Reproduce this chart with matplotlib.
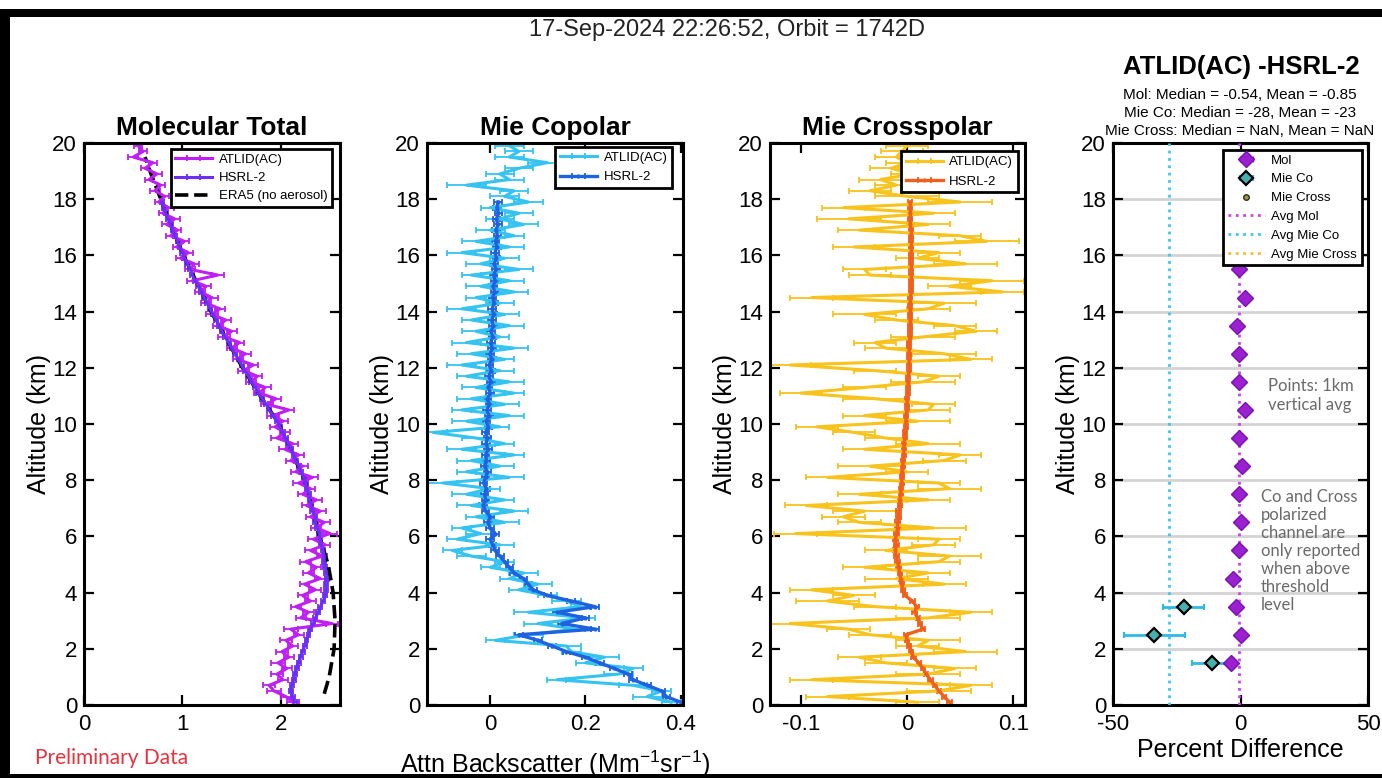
import numpy as np
import matplotlib
matplotlib.use('Agg')
import matplotlib.pyplot as plt
from matplotlib.patches import Rectangle

plt.rcParams['font.family'] = ['Liberation Sans', 'DejaVu Sans']
plt.rcParams['axes.unicode_minus'] = False
plt.rcParams['mathtext.fontset'] = 'custom'
plt.rcParams['mathtext.rm'] = 'Liberation Sans'
plt.rcParams['mathtext.it'] = 'Liberation Sans'

# ATLID profiles, 200 m bins from 0.1 km up to 19.9 km (one row = 2 km)
atlid_mol = [2.12, 2.05, 1.93, 1.88, 2.02, 1.96, 2.06, 1.97, 2.08, 2.01,
             2.12, 2.05, 2.18, 2.10, 2.52, 2.20, 2.28, 2.15, 2.30, 2.22,
             2.35, 2.24, 2.40, 2.28, 2.36, 2.25, 2.42, 2.30, 2.45, 2.33,
             2.50, 2.36, 2.44, 2.30, 2.40, 2.26, 2.36, 2.22, 2.30, 2.18,
             2.32, 2.15, 2.22, 2.10, 2.18, 2.04, 2.12, 1.96, 2.04, 1.94,
             2.02, 1.92, 2.08, 1.86, 1.95, 1.78, 1.84, 1.70, 1.76, 1.62,
             1.72, 1.56, 1.64, 1.50, 1.58, 1.42, 1.50, 1.36, 1.44, 1.30,
             1.38, 1.24, 1.30, 1.18, 1.24, 1.10, 1.36, 1.08, 1.12, 0.98,
             1.06, 0.94, 1.02, 0.88, 0.95, 0.84, 0.92, 0.80, 0.86, 0.76,
             0.82, 0.72, 0.78, 0.66, 0.74, 0.62, 0.70, 0.50, 0.60, 0.55]
atlid_mol_err = [0.06, 0.05, 0.07, 0.06, 0.05, 0.06, 0.05, 0.07, 0.05, 0.06,
                 0.05, 0.06, 0.05, 0.07, 0.06, 0.05, 0.06, 0.05, 0.06, 0.05,
                 0.06, 0.05, 0.05, 0.06, 0.05, 0.06, 0.05, 0.06, 0.05, 0.06,
                 0.07, 0.05, 0.06, 0.05, 0.06, 0.05, 0.06, 0.05, 0.05, 0.06,
                 0.06, 0.05, 0.06, 0.05, 0.05, 0.06, 0.05, 0.06, 0.05, 0.05,
                 0.05, 0.06, 0.05, 0.06, 0.05, 0.05, 0.06, 0.05, 0.05, 0.06,
                 0.05, 0.05, 0.06, 0.05, 0.05, 0.06, 0.05, 0.05, 0.05, 0.06,
                 0.05, 0.05, 0.06, 0.05, 0.05, 0.05, 0.06, 0.05, 0.05, 0.05,
                 0.05, 0.04, 0.05, 0.05, 0.04, 0.05, 0.05, 0.04, 0.05, 0.04,
                 0.04, 0.05, 0.04, 0.04, 0.05, 0.04, 0.04, 0.05, 0.04, 0.04]

atlid_co = [0.38, 0.33, 0.36, 0.30, 0.14, 0.27, 0.30, 0.20, 0.24, 0.17,
            0.16, 0.01, 0.08, 0.18, 0.10, 0.20, 0.08, 0.19, 0.16, 0.12,
            0.06, 0.10, 0.04, 0.07, 0.00, 0.03, -0.04, -0.08, 0.02, -0.07,
            -0.02, -0.06, 0.03, -0.03, 0.05, -0.04, 0.03, -0.05, 0.00, -0.10,
            0.04, -0.05, 0.02, -0.04, 0.05, -0.06, 0.03, -0.03, -0.12, 0.02,
            -0.05, 0.04, -0.06, 0.03, -0.04, 0.05, -0.03, 0.04, -0.05, 0.02,
            -0.06, 0.03, -0.04, 0.05, -0.05, 0.02, -0.03, 0.04, -0.04, 0.03,
            -0.06, 0.02, -0.03, 0.05, -0.02, 0.04, -0.04, 0.06, -0.02, 0.03,
            -0.06, 0.04, -0.03, 0.05, 0.00, 0.07, 0.02, 0.06, 0.00, 0.08,
            0.03, 0.05, -0.05, 0.04, 0.02, 0.06, 0.12, 0.04, 0.06, 0.04]
atlid_co_err = [0.02, 0.03, 0.02, 0.03, 0.02, 0.03, 0.02, 0.02, 0.03, 0.02,
                0.03, 0.02, 0.03, 0.02, 0.03, 0.02, 0.03, 0.02, 0.03, 0.02,
                0.02, 0.03, 0.02, 0.03, 0.02, 0.02, 0.03, 0.02, 0.03, 0.02,
                0.03, 0.02, 0.03, 0.02, 0.03, 0.03, 0.02, 0.03, 0.02, 0.03,
                0.03, 0.02, 0.03, 0.03, 0.02, 0.03, 0.02, 0.03, 0.03, 0.02,
                0.03, 0.03, 0.02, 0.03, 0.03, 0.02, 0.03, 0.03, 0.02, 0.03,
                0.03, 0.02, 0.03, 0.03, 0.03, 0.02, 0.03, 0.03, 0.02, 0.03,
                0.03, 0.03, 0.02, 0.03, 0.03, 0.03, 0.02, 0.03, 0.03, 0.03,
                0.03, 0.03, 0.03, 0.02, 0.03, 0.03, 0.03, 0.03, 0.02, 0.03,
                0.03, 0.03, 0.04, 0.03, 0.03, 0.03, 0.04, 0.03, 0.03, 0.03]

atlid_cross = [0.010, -0.075, 0.030, 0.060, -0.090, 0.020, 0.045, -0.020, -0.045, 0.055,
               0.010, 0.020, -0.035, -0.055, -0.110, 0.020, 0.060, -0.030, -0.075, -0.050,
               -0.090, 0.035, -0.010, 0.020, -0.040, 0.030, 0.040, -0.020, 0.025, 0.030,
               -0.105, 0.025, -0.045, -0.060, -0.040, -0.095, 0.020, -0.045, 0.040, 0.030,
               -0.075, 0.000, -0.035, 0.035, 0.050, -0.040, 0.020, -0.020, -0.050, -0.085,
               0.010, -0.040, 0.020, 0.025, -0.030, -0.100, -0.040, 0.015, 0.030, -0.030,
               -0.110, 0.060, 0.035, -0.020, -0.030, 0.015, 0.065, 0.045, -0.010, -0.040,
               0.020, 0.035, -0.090, 0.090, 0.040, 0.080, -0.035, -0.040, 0.055, 0.010,
               0.030, -0.050, 0.075, 0.050, -0.045, 0.020, -0.055, 0.025, -0.060, 0.050,
               0.000, -0.035, -0.010, -0.025, 0.005, -0.015, 0.000, -0.010, -0.005, 0.000]
atlid_cross_err = [0.02, 0.02, 0.03, 0.02, 0.02, 0.03, 0.02, 0.02, 0.02, 0.03,
                   0.02, 0.03, 0.02, 0.02, 0.02, 0.03, 0.02, 0.02, 0.03, 0.02,
                   0.02, 0.02, 0.03, 0.02, 0.02, 0.02, 0.03, 0.02, 0.02, 0.02,
                   0.02, 0.03, 0.02, 0.02, 0.03, 0.02, 0.02, 0.02, 0.03, 0.02,
                   0.02, 0.02, 0.03, 0.02, 0.02, 0.02, 0.03, 0.02, 0.02, 0.02,
                   0.03, 0.02, 0.02, 0.02, 0.03, 0.02, 0.02, 0.03, 0.02, 0.02,
                   0.02, 0.02, 0.03, 0.02, 0.02, 0.03, 0.02, 0.02, 0.02, 0.03,
                   0.02, 0.03, 0.02, 0.02, 0.02, 0.03, 0.02, 0.02, 0.03, 0.02,
                   0.02, 0.02, 0.03, 0.02, 0.02, 0.02, 0.03, 0.02, 0.02, 0.03,
                   0.03, 0.02, 0.02, 0.02, 0.02, 0.02, 0.02, 0.02, 0.02, 0.02]

# HSRL-2 profiles, same bins but only up to the aircraft (17.9 km)
hsrl_mol = [2.14, 2.12, 2.10, 2.11, 2.13, 2.14, 2.16, 2.18, 2.20, 2.22,
            2.24, 2.26, 2.28, 2.30, 2.33, 2.35, 2.38, 2.40, 2.43, 2.45,
            2.46, 2.46, 2.47, 2.46, 2.45, 2.44, 2.44, 2.43, 2.41, 2.40,
            2.39, 2.37, 2.35, 2.35, 2.32, 2.31, 2.29, 2.29, 2.26, 2.25,
            2.23, 2.20, 2.18, 2.15, 2.13, 2.10, 2.07, 2.05, 2.02, 1.99,
            1.96, 1.92, 1.88, 1.85, 1.81, 1.77, 1.74, 1.70, 1.67, 1.63,
            1.60, 1.57, 1.53, 1.50, 1.47, 1.43, 1.40, 1.37, 1.34, 1.31,
            1.28, 1.25, 1.22, 1.19, 1.16, 1.13, 1.10, 1.08, 1.05, 1.02,
            1.00, 0.97, 0.95, 0.92, 0.90, 0.88, 0.85, 0.83, 0.81, 0.79]
hsrl_co = [0.400, 0.370, 0.360, 0.330, 0.300, 0.290, 0.260, 0.230, 0.200, 0.160,
           0.130, 0.100, 0.060, 0.220, 0.150, 0.200, 0.140, 0.220, 0.170, 0.120,
           0.090, 0.080, 0.070, 0.050, 0.040, 0.030, 0.020, 0.010, 0.005, 0.000,
           0.010, 0.000, -0.005, 0.000, -0.010, -0.015, -0.010, -0.012, -0.008, -0.014,
           -0.010, -0.006, -0.012, -0.008, -0.010, -0.005, -0.009, -0.006, -0.010, -0.004,
           -0.008, -0.003, -0.007, -0.002, -0.006, 0.000, -0.004, 0.001, -0.003, 0.002,
           -0.002, 0.003, 0.000, 0.004, 0.001, 0.005, 0.002, 0.006, 0.003, 0.007,
           0.004, 0.008, 0.005, 0.009, 0.006, 0.010, 0.007, 0.012, 0.008, 0.013,
           0.010, 0.014, 0.011, 0.015, 0.012, 0.016, 0.013, 0.017, 0.014, 0.016]
hsrl_cross = [0.040, 0.035, 0.030, 0.026, 0.022, 0.018, 0.015, 0.011, 0.006, 0.004,
              0.002, 0.000, -0.001, 0.015, 0.012, 0.010, 0.007, 0.009, 0.005, -0.002,
              -0.004, -0.005, -0.006, -0.007, -0.008, -0.009, -0.010, -0.011, -0.010, -0.011,
              -0.010, -0.009, -0.009, -0.008, -0.008, -0.007, -0.007, -0.006, -0.006, -0.005,
              -0.005, -0.005, -0.004, -0.004, -0.003, -0.003, -0.003, -0.002, -0.002, -0.001,
              -0.001, -0.001, 0.000, 0.000, 0.000, 0.001, 0.001, 0.001, 0.001, 0.002,
              0.002, 0.002, 0.002, 0.002, 0.002, 0.003, 0.003, 0.003, 0.003, 0.003,
              0.003, 0.003, 0.003, 0.004, 0.004, 0.004, 0.004, 0.004, 0.004, 0.004,
              0.004, 0.004, 0.004, 0.004, 0.004, 0.003, 0.003, 0.003, 0.003, 0.003]
hsrl_mol_err = 0.02
hsrl_co_err = 0.008
hsrl_cross_err = 0.002

# ERA5 molecular reference (no aerosol)
era5_alt = [0.4, 1, 2, 3, 4, 5, 6, 7, 8, 9, 10, 11, 12, 13, 14, 15, 16, 17, 18, 19, 19.5]
era5_mol = [2.44, 2.49, 2.54, 2.55, 2.53, 2.48, 2.39, 2.32, 2.24, 2.11, 1.98,
            1.79, 1.61, 1.45, 1.29, 1.15, 1.01, 0.89, 0.78, 0.67, 0.62]

# 1 km averaged percent differences ATLID - HSRL-2
mol_alt = [1.5, 2.5, 3.5, 4.5, 5.5, 6.5, 7.5, 8.5, 9.5, 10.5, 11.5, 12.5, 13.5, 14.5, 15.5, 16.5, 17.5]
mol_pct = [-3.9, 0.0, -1.7, -3.0, -0.4, 0.0, -0.4, 0.7, -0.6, 1.6, -0.4, -0.4, -1.3, 1.6, -0.6, -1.0, 0.5]
mol_pct_err = [1.0, 0.8, 0.8, 0.9, 0.7, 0.7, 0.8, 0.8, 0.9, 0.9, 1.0, 1.0, 1.1, 1.1, 1.2, 1.2, 1.3]
co_alt = [1.5, 2.5, 3.5]
co_pct = [-11.2, -33.8, -22.3]
co_pct_err = [8.0, 12.0, 8.0]
mol_median, mol_mean = -0.54, -0.85
co_median, co_mean = -28, -23

alt_atlid = 0.1 + 0.2 * np.arange(len(atlid_mol))
alt_hsrl = 0.1 + 0.2 * np.arange(len(hsrl_mol))

W, H = 1382, 781
fig = plt.figure(figsize=(W / 100, H / 100), dpi=100)


def add_panel(x0, x1):
    ax = fig.add_axes([x0 / W, 1 - 705 / H, (x1 - x0) / W, 562 / H])
    ax.set_ylim(0, 20)
    ax.set_yticks(range(0, 21, 2))
    ax.tick_params(direction='in', length=7, width=1.6, top=True, right=True,
                   labelsize=16, pad=5)
    ax.tick_params(axis='x', pad=6.5)
    for s in ax.spines.values():
        s.set_linewidth(2.2)
    ax.set_ylabel('Altitude (km)', fontsize=18)
    ax.yaxis.set_label_coords(-0.13, 0.5)
    return ax


def boxed_legend(ax, handles, labels, x1, y1, spacing=0.45):
    leg = ax.legend(handles, labels, loc='upper right', bbox_to_anchor=(x1, y1),
                    fontsize=9.5, fancybox=False, framealpha=1, edgecolor='black',
                    borderaxespad=0, borderpad=0.35, labelspacing=spacing,
                    handlelength=2.8, handletextpad=0.5)
    leg.get_frame().set_linewidth(2)
    return leg


eb = dict(capsize=2, elinewidth=1.3, capthick=1.3)

# Molecular total
ax1 = add_panel(84, 340)
h_a = ax1.errorbar(atlid_mol, alt_atlid, xerr=atlid_mol_err, color='#bf1ff2', lw=2.2, **eb)
h_h = ax1.errorbar(hsrl_mol, alt_hsrl, xerr=hsrl_mol_err, color='#6b2ef5', lw=2.2, **eb)
h_e, = ax1.plot(era5_mol, era5_alt, '--', color='black', lw=2.6)
ax1.set_xlim(0, 2.6)
ax1.set_xticks([0, 1, 2])
ax1.set_title('Molecular Total', fontsize=19, fontweight='bold', pad=6)
boxed_legend(ax1, [h_a, h_h, h_e], ['ATLID(AC)', 'HSRL-2', 'ERA5 (no aerosol)'],
             0.969, 0.989)

# Mie copolar
ax2 = add_panel(427, 683)
h_a = ax2.errorbar(atlid_co, alt_atlid, xerr=atlid_co_err, color='#35c3f2', lw=2.2, **eb)
h_h = ax2.errorbar(hsrl_co, alt_hsrl, xerr=hsrl_co_err, color='#1f62e0', lw=2.4,
                   marker='.', ms=4, **eb)
ax2.set_xlim(-0.133, 0.405)
ax2.set_xticks([0, 0.2, 0.4])
ax2.set_xticklabels(['0', '0.2', '0.4'])
ax2.set_title('Mie Copolar', fontsize=19, fontweight='bold', pad=6)
ax2.set_xlabel('Attn Backscatter (Mm$^{-1}$sr$^{-1}$)', fontsize=18)
ax2.xaxis.set_label_coords(0.5, -0.077)
boxed_legend(ax2, [h_a, h_h], ['ATLID(AC)', 'HSRL-2'], 0.957, 0.993, spacing=0.55)

# Mie crosspolar
ax3 = add_panel(770, 1025)
h_a = ax3.errorbar(atlid_cross, alt_atlid, xerr=atlid_cross_err, color='#f7c31c', lw=2.2, **eb)
h_h = ax3.errorbar(hsrl_cross, alt_hsrl, xerr=hsrl_cross_err, color='#f0601c', lw=2.4,
                   marker='.', ms=4, **eb)
ax3.set_xlim(-0.129, 0.111)
ax3.set_xticks([-0.1, 0, 0.1])
ax3.set_xticklabels(['-0.1', '0', '0.1'])
ax3.set_title('Mie Crosspolar', fontsize=19, fontweight='bold', pad=6)
boxed_legend(ax3, [h_a, h_h], ['ATLID(AC)', 'HSRL-2'], 0.972, 0.985, spacing=0.55)

# Percent difference
ax4 = add_panel(1113, 1368)
ax4.grid(axis='y', color='#d4d4d4', lw=2)
ax4.set_axisbelow(True)
h_mol = ax4.errorbar(mol_pct, mol_alt, xerr=mol_pct_err, fmt='D', color='#9a20d0', ms=8,
                     mfc='#9a20d0', mec='#7a10b0', lw=1.4, capsize=2, zorder=4)
h_co = ax4.errorbar(co_pct, co_alt, xerr=co_pct_err, fmt='D', color='#30b8e8', ms=7,
                    mfc='#46b0b0', mec='black', mew=1.6, elinewidth=2, capsize=2, zorder=4)
h_cross, = ax4.plot([], [], 'o', ms=4, mfc='#9a9a40', mec='#303020')
h_amol = ax4.axvline(mol_median, ls=':', color='#cc44ee', lw=2, zorder=3)
h_aco = ax4.axvline(co_median, ls=':', color='#40c8e8', lw=2, zorder=3)
h_across, = ax4.plot([], [], ':', color='#f0c030', lw=2)
ax4.set_xlim(-50, 50)
ax4.set_xticks([-50, 0, 50])
ax4.set_xlabel('Percent Difference', fontsize=18)
ax4.xaxis.set_label_coords(0.5, -0.058)
boxed_legend(ax4, [h_mol, h_co, h_cross, h_amol, h_aco, h_across],
             ['Mol', 'Mie Co', 'Mie Cross', 'Avg Mol', 'Avg Mie Co', 'Avg Mie Cross'],
             0.975, 0.988, spacing=0.5)

ax4.text(1268 / W, 1 - 378 / H, 'Points: 1km\nvertical avg', transform=fig.transFigure,
         family='Lato', fontsize=12, color='#6a6a6a', va='top', linespacing=1.25)
ax4.text(1261 / W, 1 - 489 / H,
         'Co and Cross\npolarized\nchannel are\nonly reported\nwhen above\nthreshold\nlevel',
         transform=fig.transFigure, family='Lato', fontsize=12, color='#6a6a6a',
         va='top', linespacing=1.15)

fig.text(727 / W, 1 - 30 / H, '17-Sep-2024 22:26:52, Orbit = 1742D',
         fontsize=17, color='#222222', ha='center', va='center')
fig.text(1241 / W, 1 - 67 / H, 'ATLID(AC) -HSRL-2', fontsize=18.5, fontweight='bold',
         ha='center', va='center')
stats = [f'Mol: Median = {mol_median}, Mean = {mol_mean}',
         f'Mie Co: Median = {co_median}, Mean = {co_mean}',
         'Mie Cross: Median = NaN, Mean = NaN']
for i, line in enumerate(stats):
    fig.text(1240 / W, 1 - (95 + 18 * i) / H, line, fontsize=11, ha='center', va='center')

fig.text(35 / W, 1 - 758 / H, 'Preliminary Data', family='Lato', fontsize=15,
         color='#e8323c', va='center')

# dark frame around the slide
for x, y, w, h in [(0, 9, W, 8), (0, 9, 10, 769), (0, 774, W, 4)]:
    fig.add_artist(Rectangle((x / W, 1 - (y + h) / H), w / W, h / H,
                             transform=fig.transFigure, color='black', lw=0))

fig.savefig('out.png', dpi=100)
